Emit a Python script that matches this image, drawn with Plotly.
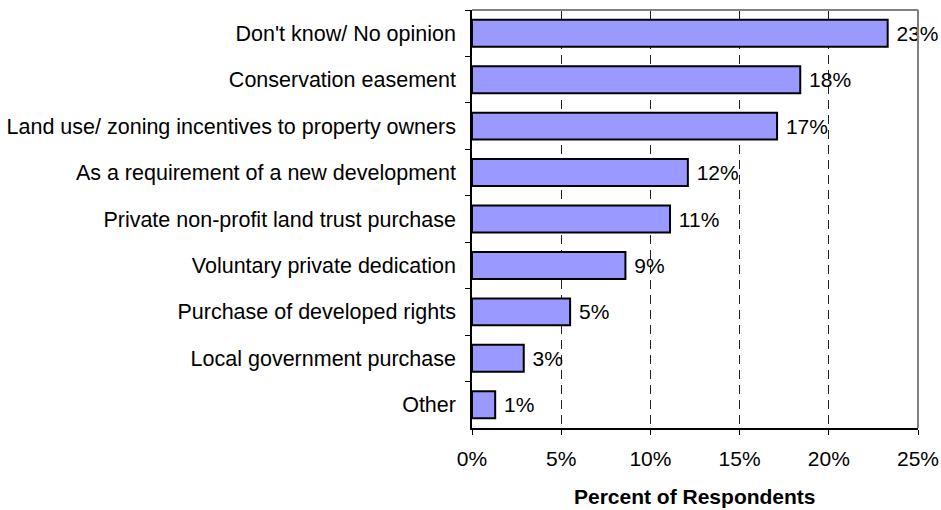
import plotly.graph_objects as go

categories = [
    "Don't know/ No opinion",
    "Conservation easement",
    "Land use/ zoning incentives to property owners",
    "As a requirement of a new development",
    "Private non-profit land trust purchase",
    "Voluntary private dedication",
    "Purchase of developed rights",
    "Local government purchase",
    "Other",
]
values = [23.3, 18.4, 17.1, 12.1, 11.1, 8.6, 5.5, 2.9, 1.3]
labels = ["23%", "18%", "17%", "12%", "11%", "9%", "5%", "3%", "1%"]
x_ticks = [0, 5, 10, 15, 20, 25]
x_ticklabels = ["0%", "5%", "10%", "15%", "20%", "25%"]
x_title = "Percent of Respondents"

FONT = "Arial, Liberation Sans, sans-serif"

fig = go.Figure(
    go.Bar(
        x=values,
        y=categories,
        orientation="h",
        text=[" " + t for t in labels],
        textposition="outside",
        textfont=dict(family=FONT, size=21, color="black"),
        constraintext="none",
        cliponaxis=False,
        marker=dict(color="#9999FF", line=dict(color="black", width=2)),
        hoverinfo="skip",
    )
)

fig.update_layout(
    width=941,
    height=510,
    margin=dict(l=472, r=23, t=10, b=82, autoexpand=False),
    paper_bgcolor="white",
    plot_bgcolor="white",
    bargap=0.42,
    showlegend=False,
    font=dict(family=FONT, size=21, color="black"),
    xaxis=dict(
        range=[0, 25],
        tickvals=x_ticks,
        ticktext=x_ticklabels,
        ticks="outside",
        ticklen=5,
        tickwidth=1,
        tickcolor="black",
        ticklabelstandoff=6,
        showline=True,
        linecolor="black",
        linewidth=1.5,
        showgrid=True,
        gridcolor="#222222",
        gridwidth=1,
        griddash="9px,6px",
        zeroline=False,
        automargin=False,
        tickfont=dict(family=FONT, size=21, color="black"),
        fixedrange=True,
    ),
    yaxis=dict(
        type="category",
        categoryorder="array",
        categoryarray=categories,
        range=[8.5, -0.5],
        ticks="outside",
        tickson="boundaries",
        ticklen=5,
        tickwidth=1,
        tickcolor="black",
        ticklabelstandoff=10,
        showline=True,
        linecolor="black",
        linewidth=1.5,
        showgrid=False,
        zeroline=False,
        automargin=False,
        tickfont=dict(family=FONT, size=21.5, color="black"),
        fixedrange=True,
    ),
    annotations=[
        dict(text="<b>" + x_title + "</b>", xref="paper", yref="paper",
             x=0.5, y=-0.163, xanchor="center", yanchor="middle",
             showarrow=False, font=dict(family=FONT, size=21, color="black")),
    ],
    shapes=[
        dict(type="line", xref="paper", yref="paper", x0=0, x1=1, y0=1, y1=1,
             line=dict(color="#808080", width=2), layer="above"),
        dict(type="line", xref="paper", yref="paper", x0=1, x1=1, y0=0, y1=1,
             line=dict(color="#808080", width=2), layer="above"),
    ],
)

fig.write_html(
    "out.html",
    config={"displayModeBar": False},
    post_script="document.body.style.margin='0';document.body.style.overflow='hidden';",
)
